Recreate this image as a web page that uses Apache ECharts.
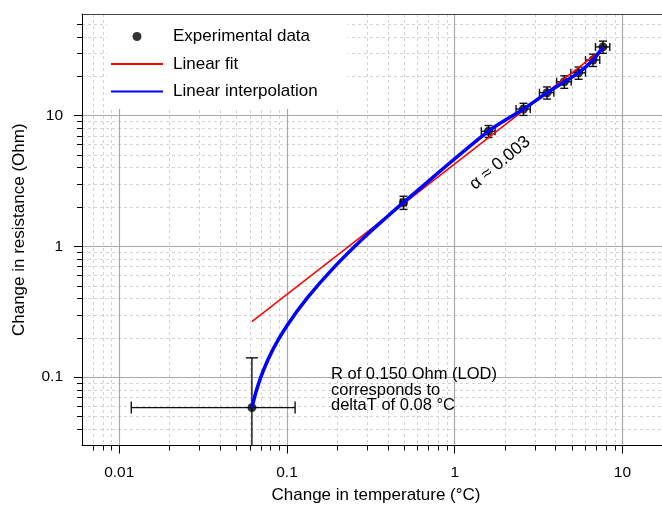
<!DOCTYPE html>
<html>
<head>
<meta charset="utf-8">
<script src="https://cdn.jsdelivr.net/npm/echarts@6/dist/echarts.min.js"></script>
<style>
html, body { margin: 0; padding: 0; background: #fff; }
#main { width: 662px; height: 509px; }
</style>
</head>
<body>
<div id="main"></div>
<script>
var FONT = '"Liberation Sans", Arial, Helvetica, sans-serif';

// experimental data: change in temperature (°C) / change in resistance (Ohm), with errors
var expT    = [0.0618, 0.495, 1.59, 2.57, 3.55, 4.50, 5.47, 6.67, 7.65];
var expR    = [0.0585, 2.17, 7.61, 11.25, 15.0, 18.2, 21.3, 26.7, 33.6];
var expTErr = [0.05, 0.02, 0.15, 0.25, 0.35, 0.45, 0.55, 0.65, 0.75];
var expRErr = [0.082, 0.25, 0.8, 1.2, 1.6, 2.0, 2.3, 2.9, 3.6];

// linear fit (straight on log-log)
var fitT = [0.0618, 7.72];
var fitR = [0.266, 32.9];

// linear interpolation curve
var interpT = [0.0618, 0.0661, 0.0724, 0.0831, 0.0999, 0.1314, 0.1894, 0.2859, 0.394, 0.495,
               1.59, 2.57, 3.55, 4.50, 5.47, 6.67, 7.65];
var interpR = [0.0585, 0.081, 0.113, 0.166, 0.247, 0.400, 0.685, 1.16, 1.68, 2.17,
               7.61, 11.25, 15.0, 18.2, 21.3, 26.7, 33.6];

// axes
var xMin = 0.006, xMax = 17.2;
var yMin = 0.03,  yMax = 60;
var xMajor = [0.01, 0.1, 1, 10];
var xMinor = [0.007, 0.008, 0.009, 0.02, 0.03, 0.04, 0.05, 0.06, 0.07, 0.08, 0.09,
              0.2, 0.3, 0.4, 0.5, 0.6, 0.7, 0.8, 0.9, 2, 3, 4, 5, 6, 7, 8, 9];
var yMajor = [0.1, 1, 10];
var yMinor = [0.04, 0.05, 0.06, 0.07, 0.08, 0.09, 0.2, 0.3, 0.4, 0.5, 0.6, 0.7, 0.8, 0.9,
              2, 3, 4, 5, 6, 7, 8, 9, 20, 30, 40, 50];

function fmt(v) {
    return String(+Number(v).toPrecision(6));
}

function zip(a, b) {
    return a.map(function (v, i) { return [v, b[i]]; });
}

function renderErr(params, api) {
    var x = api.value(0), y = api.value(1), dx = api.value(2), dy = api.value(3);
    var c = api.coord([x, y]);
    var xl = api.coord([x - dx, y]);
    var xr = api.coord([x + dx, y]);
    var hasLow = y - dy > 0;
    var yb = api.coord([x, hasLow ? y - dy : yMin]);
    var yt = api.coord([x, y + dy]);
    var cap = params.dataIndex === 0 ? 6 : 4;
    var st = { stroke: '#111', lineWidth: 1.4 };
    var kids = [
        { type: 'line', shape: { x1: xl[0], y1: c[1], x2: xr[0], y2: c[1] }, style: st },
        { type: 'line', shape: { x1: xl[0], y1: c[1] - cap, x2: xl[0], y2: c[1] + cap }, style: st },
        { type: 'line', shape: { x1: xr[0], y1: c[1] - cap, x2: xr[0], y2: c[1] + cap }, style: st },
        { type: 'line', shape: { x1: c[0], y1: yb[1], x2: c[0], y2: yt[1] }, style: st },
        { type: 'line', shape: { x1: c[0] - cap, y1: yt[1], x2: c[0] + cap, y2: yt[1] }, style: st }
    ];
    if (hasLow) {
        kids.push({ type: 'line', shape: { x1: c[0] - cap, y1: yb[1], x2: c[0] + cap, y2: yb[1] }, style: st });
    }
    return { type: 'group', children: kids };
}

var myChart = echarts.init(document.getElementById('main'));

var option = {
    animation: false,
    backgroundColor: '#fff',
    grid: { left: 82, top: 14, right: 0, bottom: 61 },
    legend: {
        orient: 'vertical',
        left: 107,
        top: 15,
        backgroundColor: '#fff',
        padding: [13, 30, 9, 3],
        itemWidth: 52,
        itemHeight: 9,
        itemGap: 10.5,
        textStyle: { fontSize: 17, fontFamily: FONT, color: '#000', padding: [0, 0, 0, 5] },
        data: [
            { name: 'Experimental data', icon: 'circle', itemStyle: { color: '#000' } },
            { name: 'Linear fit', itemStyle: { opacity: 0, color: 'rgba(0,0,0,0)' } },
            { name: 'Linear interpolation', itemStyle: { opacity: 0, color: 'rgba(0,0,0,0)' } }
        ]
    },
    xAxis: [
        {
            type: 'log', min: xMin, max: xMax, position: 'bottom',
            name: 'Change in temperature (°C)',
            nameLocation: 'middle', nameGap: 41.5,
            nameTextStyle: { fontSize: 17, fontFamily: FONT, color: '#000', padding: [0, 0, 0, 8] },
            axisLine: { show: true, lineStyle: { color: '#000', width: 1 } },
            axisTick: { show: true, length: 8, customValues: xMajor, lineStyle: { color: '#000' } },
            axisLabel: { customValues: xMajor, margin: 19, fontSize: 15.5, fontFamily: FONT, color: '#000', formatter: fmt },
            splitLine: { show: true, lineStyle: { color: '#a8a8a8', width: 1.2 } }
        },
        {
            type: 'log', min: xMin, max: xMax, position: 'bottom',
            axisLine: { show: false },
            axisTick: { show: true, length: 5, customValues: xMinor, lineStyle: { color: '#000' } },
            axisLabel: { show: false },
            splitLine: { show: true, lineStyle: { color: '#d2d2d2', width: 1, type: [3, 3] } }
        },
        {
            type: 'log', min: xMin, max: xMax, position: 'top',
            axisLine: { show: true, lineStyle: { color: '#444', width: 1 } },
            axisTick: { show: false },
            axisLabel: { show: false },
            splitLine: { show: false }
        }
    ],
    yAxis: [
        {
            type: 'log', min: yMin, max: yMax, position: 'left',
            name: 'Change in resistance (Ohm)',
            nameLocation: 'middle', nameGap: 54,
            nameTextStyle: { fontSize: 17, fontFamily: FONT, color: '#000' },
            axisLine: { show: true, lineStyle: { color: '#000', width: 1 } },
            axisTick: { show: true, length: 8, customValues: yMajor, lineStyle: { color: '#000' } },
            axisLabel: { customValues: yMajor, margin: 19, fontSize: 15.5, fontFamily: FONT, color: '#000', formatter: fmt },
            splitLine: { show: true, lineStyle: { color: '#a8a8a8', width: 1.2 } }
        },
        {
            type: 'log', min: yMin, max: yMax, position: 'left',
            axisLine: { show: false },
            axisTick: { show: true, length: 5, customValues: yMinor, lineStyle: { color: '#000' } },
            axisLabel: { show: false },
            splitLine: { show: true, lineStyle: { color: '#d2d2d2', width: 1, type: [3, 3] } }
        }
    ],
    series: [
        {
            name: 'errors',
            type: 'custom',
            z: 2,
            renderItem: renderErr,
            encode: { x: 0, y: 1 },
            data: expT.map(function (t, i) { return [t, expR[i], expTErr[i], expRErr[i]]; })
        },
        {
            name: 'Experimental data',
            type: 'scatter',
            z: 3,
            symbolSize: 9,
            itemStyle: { color: '#000' },
            data: zip(expT, expR)
        },
        {
            name: 'Linear fit',
            type: 'line',
            z: 4,
            symbol: 'none',
            showSymbol: false,
            itemStyle: { color: '#ff0000' },
            lineStyle: { color: '#ff0000', width: 1.5 },
            data: zip(fitT, fitR)
        },
        {
            name: 'Linear interpolation',
            type: 'line',
            z: 5,
            symbol: 'none',
            showSymbol: false,
            smooth: 0.3,
            itemStyle: { color: '#0000ff' },
            lineStyle: { color: '#0000ff', width: 3.5 },
            data: zip(interpT, interpR)
        }
    ],
    graphic: [
        {
            type: 'text',
            left: 331,
            top: 366,
            z: 10,
            style: {
                text: 'R of 0.150 Ohm (LOD)\ncorresponds to\ndeltaT of 0.08 °C',
                font: '16.5px ' + FONT,
                fill: '#000',
                lineHeight: 15.5
            }
        },
        {
            type: 'text',
            x: 500,
            y: 163,
            rotation: 40 * Math.PI / 180,
            z: 10,
            style: {
                text: 'α ≈ 0.003',
                font: '17.5px ' + FONT,
                fill: '#000',
                align: 'center',
                verticalAlign: 'middle'
            }
        }
    ]
};

myChart.setOption(option);
</script>
</body>
</html>
